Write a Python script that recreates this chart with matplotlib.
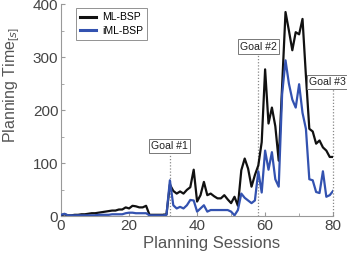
import numpy as np
import matplotlib
matplotlib.use('Agg')
import matplotlib.pyplot as plt
from matplotlib.ticker import MultipleLocator

plt.rcParams['font.family'] = ['Liberation Sans', 'DejaVu Sans']
plt.rcParams['mathtext.fontset'] = 'custom'
plt.rcParams['mathtext.rm'] = 'Liberation Sans'

# ── data ──
sessions = list(range(81))
ml_bsp = [2, 4, 2, 2, 3, 3, 4, 4, 5, 6,
          6, 7, 8, 9, 10, 11, 11, 13, 13, 17,
          15, 20, 19, 17, 17, 20, 3, 3, 3, 3,
          3, 4, 60, 48, 43, 47, 43, 50, 55, 88,
          28, 40, 65, 40, 43, 38, 34, 34, 40, 32,
          25, 37, 20, 87, 109, 90, 56, 78, 96, 140,
          277, 175, 205, 170, 105, 245, 385, 350, 313, 347,
          343, 372, 265, 165, 160, 137, 143, 130, 124, 112,
          112]
iml_bsp = [3, 5, 2, 2, 2, 2, 2, 2, 2, 2,
           2, 3, 3, 3, 3, 4, 4, 4, 4, 6,
           7, 7, 6, 6, 6, 6, 2, 2, 2, 2,
           2, 3, 68, 21, 15, 18, 15, 21, 31, 30,
           9, 15, 21, 9, 12, 12, 12, 12, 12, 12,
           9, 2, 12, 43, 35, 30, 25, 30, 85, 45,
           124, 88, 121, 70, 56, 230, 294, 250, 220, 205,
           249, 195, 165, 70, 68, 46, 44, 85, 37, 40,
           48]
goal_x = [32, 58, 80]
goal_labels = ['Goal #1', 'Goal #2', 'Goal #3']
goal_box_y = [133, 320, 253]
goal_text_x = [32, 58, 78.3]

fig = plt.figure(figsize=(3.47, 2.54), dpi=100)
ax = fig.add_axes([0.176, 0.148, 0.784, 0.836])

black = '#111111'
blue = '#3352b0'
grey = '#555555'

ax.plot(sessions, ml_bsp, color=black, lw=1.6, label='ML-BSP', zorder=3)
ax.plot(sessions, iml_bsp, color=blue, lw=1.6, label='iML-BSP', zorder=4)

# goal markers
for gx, lab, by, tx in zip(goal_x, goal_labels, goal_box_y, goal_text_x):
    ax.plot([gx, gx], [0, by - 12], ls=(0, (1, 1.5)), color='#888888', lw=0.9,
            zorder=2, clip_on=False)
    ax.text(tx, by, lab, ha='center', va='center', fontsize=7.6, color='#222222',
            zorder=5, clip_on=False,
            bbox=dict(boxstyle='square,pad=0.2', fc='white', ec='#777777', lw=0.7))

ax.set_xlim(0, 80)
ax.set_ylim(0, 400)
ax.xaxis.set_major_locator(MultipleLocator(20))
ax.xaxis.set_minor_locator(MultipleLocator(10))
ax.yaxis.set_major_locator(MultipleLocator(100))
ax.yaxis.set_minor_locator(MultipleLocator(50))
ax.tick_params(which='both', direction='in', color='#999999', labelcolor='#444444')
ax.tick_params(which='major', length=3, labelsize=11, pad=2)
ax.tick_params(which='minor', length=2)

for s in ['top', 'right']:
    ax.spines[s].set_visible(False)
for s in ['left', 'bottom']:
    ax.spines[s].set_color('#999999')
    ax.spines[s].set_linewidth(0.8)

ax.set_xlabel('Planning Sessions', fontsize=12, color=grey)
ax.set_ylabel('Planning Time$_{[s]}$', fontsize=11.5, color=grey)
ax.xaxis.set_label_coords(0.555, -0.09)
ax.yaxis.set_label_coords(-0.145, 0.62)

leg = ax.legend(loc='upper left', bbox_to_anchor=(0.035, 1.005), fontsize=7.5,
                frameon=True, fancybox=False, edgecolor='#777777',
                handlelength=1.5, borderpad=0.4, labelspacing=0.3,
                handletextpad=0.6)
leg.get_frame().set_linewidth(0.7)
for line in leg.get_lines():
    line.set_linewidth(2.2)

fig.savefig('out.png', dpi=100)
